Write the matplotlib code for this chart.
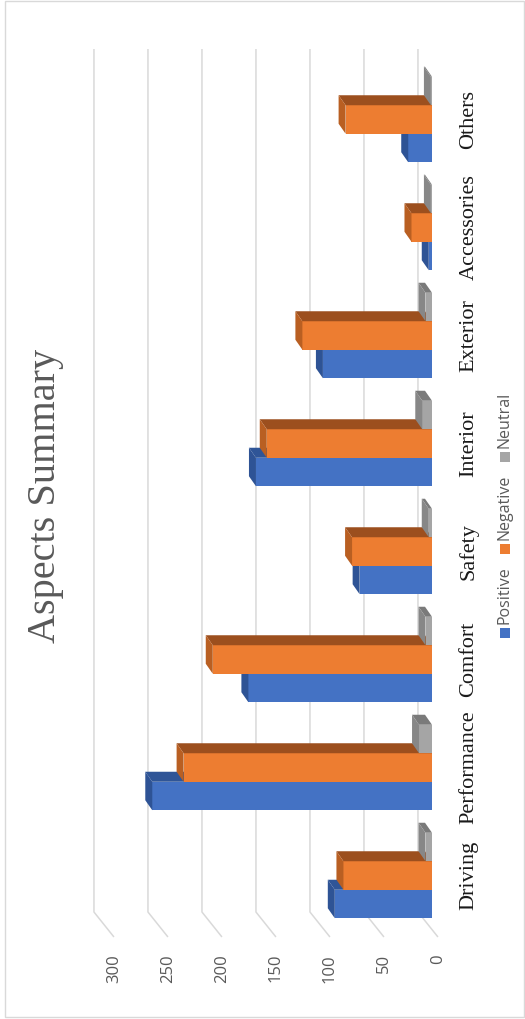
import matplotlib
matplotlib.use("Agg")
import matplotlib.pyplot as plt
from matplotlib.patches import Polygon, Rectangle

categories = ["Driving", "Performance", "Comfort", "Safety",
              "Interior", "Exterior", "Accessories", "Others"]
positive = [90, 259, 170, 67, 163, 101, 3, 22]
negative = [82, 230, 203, 74, 153, 120, 19, 80]
neutral = [6, 12, 6, 3, 9, 6, 1, 1]
ticks = [0, 50, 100, 150, 200, 250, 300]

series = [
    ("Positive", positive, "#4472C4", "#2F5597", "#2E5395"),
    ("Negative", negative, "#ED7D31", "#9C4F1E", "#B95F22"),
    ("Neutral", neutral, "#A5A5A5", "#7A7A7A", "#878787"),
]

W, H = 525, 1019
# pixel layout (the whole chart is turned a quarter turn)
BASE_X = 432.0      # px of value 0 on the bar front
PX_VAL = 1.08       # px per value unit
CAT0_Y = 875.5      # px (from top) of first category centre
PX_CAT = 108.0      # px between categories

fig = plt.figure(figsize=(W / 100, H / 100), dpi=100)
ax = fig.add_axes([0, 0, 1, 1])
ax.set_xlim(BASE_X / PX_VAL, (BASE_X - W) / PX_VAL)
ax.set_ylim((CAT0_Y - H) / PX_CAT, CAT0_Y / PX_CAT)
ax.axis("off")

def yd(py):
    return (CAT0_Y - py) / PX_CAT

bw = 28.5 / PX_CAT
dx = 7 / PX_VAL
dy = 10 / PX_CAT

# gridlines on the back wall, bending to the front at the bottom
for t in ticks:
    xb = t + 13
    xf = t - 5.5
    ax.plot([xb, xb, xf], [yd(49), yd(912), yd(937)], color="#d9d9d9",
            lw=1.1, zorder=1, solid_capstyle="butt")
    ax.text(xf, yd(954), str(t), rotation=90, ha="center", va="top",
            fontsize=12, family="Open Sans", color="#595959")

# 3d-ish bars
for k, (name, vals, face, side, cap) in enumerate(series):
    off = (k - 1) * bw
    for i, v in enumerate(vals):
        y0 = i + off - bw / 2
        y1 = i + off + bw / 2
        z = 3 + k
        ax.barh(i + off, v, height=bw, left=0, color=face, zorder=z,
                linewidth=0)
        ax.add_patch(Polygon([(0, y1), (v, y1), (v + dx, y1 + dy), (dx, y1 + dy)],
                             closed=True, facecolor=side, edgecolor="none", zorder=z))
        ax.add_patch(Polygon([(v, y0), (v, y1), (v + dx, y1 + dy), (v + dx, y0 + dy)],
                             closed=True, facecolor=cap, edgecolor="none", zorder=z))

# category labels
for i, c in enumerate(categories):
    ax.text((BASE_X - 469) / PX_VAL, i, c, rotation=90, ha="center", va="center",
            fontsize=16, family="Liberation Serif", color="#1a1a1a")

# title
fig.text(46 / W, 1 - 496 / H, "Aspects Summary", rotation=90, ha="center",
         va="center", fontsize=29, family="Liberation Serif", color="#595959")

# legend
leg_y = [633, 549, 457]
for (name, vals, face, side, cap), sy in zip(series, leg_y):
    fig.add_artist(Rectangle(((505 - 5) / W, 1 - (sy + 5) / H), 10 / W, 10 / H,
                             transform=fig.transFigure, facecolor=face,
                             edgecolor="none"))
    fig.text(505 / W, 1 - (sy - 9) / H, name, rotation=90, ha="center",
             va="bottom", fontsize=11.5, family="Open Sans", color="#595959")

# chart border
fig.add_artist(Rectangle((5 / W, 2 / H), 519 / W, 1016 / H, transform=fig.transFigure,
                         facecolor="none", edgecolor="#d9d9d9", lw=1))

fig.savefig("out.png", dpi=100)
